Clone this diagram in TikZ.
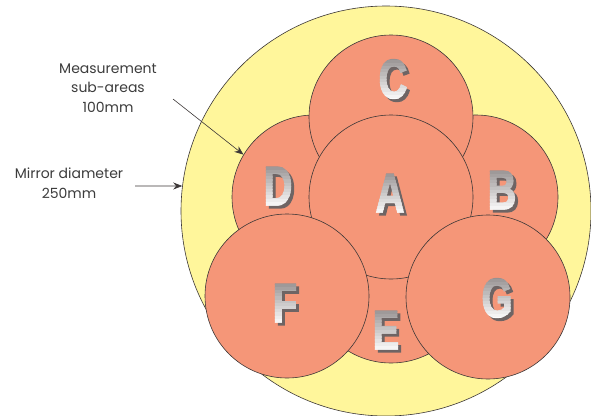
\documentclass[tikz,border=0pt]{standalone}
\usepackage{fontspec}
\setmainfont{Poppins}
\newfontfamily\letterfont{Liberation Sans Bold}[FakeBold=2.8]
\usetikzlibrary{arrows.meta}
\definecolor{salmon}{RGB}{245,150,120}
\definecolor{mirror}{RGB}{255,246,155}
\definecolor{edgegray}{RGB}{60,55,55}
\definecolor{labelgray}{RGB}{60,60,60}
\definecolor{shadowgray}{RGB}{110,100,100}
\definecolor{lettertop}{RGB}{150,145,145}
\newcommand{\bigletter}[1]{{\letterfont\fontsize{55}{55}\selectfont\scalebox{0.72}[1]{#1}}}
\tikzset{
  area/.style={circle, draw=edgegray, fill=salmon, line width=0.6pt, minimum size=164pt, inner sep=0pt},
  mirrorcircle/.style={circle, draw=edgegray, fill=mirror, line width=0.6pt, minimum size=410pt, inner sep=0pt},
  lbl/.style={align=center, text=labelgray, font=\fontsize{14}{19.5}\selectfont, inner sep=0pt},
  pointer/.style={draw=edgegray, line width=0.6pt, -{Stealth[length=9pt,width=7pt]}},
  lettertxt/.style={inner sep=0pt},
}
\newcommand{\gradletter}[3]{% name, x, y
  \node[lettertxt, text=shadowgray] (sh#1) at (#2+3,#3+3) {\bigletter{#1}};
  \foreach \i in {0,...,13}{
    \pgfmathsetmacro{\pct}{100-\i*7.5}
    \begin{scope}
      \clip (#2-30,{#3-22+\i*3.2-0.2}) rectangle (#2+30,{#3-22+(\i+1)*3.2+0.2});
      \node[lettertxt, text=lettertop!\pct!white] at (#2,#3) {\bigletter{#1}};
    \end{scope}
  }
  \node[lettertxt, text opacity=0] (L#1) at (#2,#3) {\bigletter{#1}};
}
\begin{document}
\begin{tikzpicture}[x=1pt,y=-1pt]
\useasboundingbox (0,0) rectangle (591,415);
\node[mirrorcircle] (M) at (386,211) {};
\node[area] (D) at (314,197) {};
\node[area] (B) at (476,197) {};
\node[area] (E) at (391,281) {};
\node[area] (C) at (391,117) {};
\node[area] (A) at (391,197) {};
\node[area] (F) at (287,296) {};
\node[area] (G) at (488,297) {};
\gradletter{C}{393}{79}
\gradletter{D}{278}{186}
\gradletter{A}{390}{193}
\gradletter{B}{502}{190}
\gradletter{F}{285}{303}
\gradletter{G}{497}{298}
\gradletter{E}{386}{330}
\node[lbl] (meas) at (108,88) {Measurement\\sub-areas\\100mm};
\node[lbl] (mirr) at (69,183) {Mirror diameter\\250mm};
\coordinate (a1) at (173,99);
\coordinate (a2) at (135,186);
\draw[pointer] (a1) -- (D.149);
\draw[pointer] (a2) -- (M.173);
\end{tikzpicture}
\end{document}
